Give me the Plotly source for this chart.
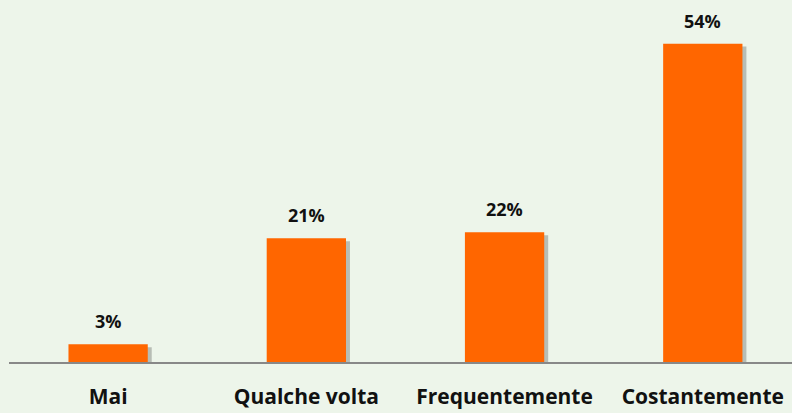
import plotly.graph_objects as go

categories = ["Mai", "Qualche volta", "Frequentemente", "Costantemente"]
values = [3, 21, 22, 54]
value_labels = ["3%", "21%", "22%", "54%"]

FONT = "Open Sans"
BAR_COLOR = "#FF6600"

fig = go.Figure()
# shadow
fig.add_trace(go.Bar(
    x=categories, y=values, base=[-0.5] * len(values),
    width=0.4, offset=-0.18,
    marker=dict(color="rgba(60,60,60,0.3)", line=dict(width=0)),
    hoverinfo="skip", showlegend=False,
))
fig.add_trace(go.Bar(
    x=categories, y=values,
    width=0.4, offset=-0.2,
    marker=dict(color=BAR_COLOR, line=dict(width=0)),
    showlegend=False,
))

for c, v, t in zip(categories, values, value_labels):
    fig.add_annotation(x=c, y=v, text="<b>%s</b>" % t, showarrow=False,
                       yshift=23, font=dict(family=FONT, size=18, color="#111111"))

fig.update_layout(
    width=792, height=413,
    margin=dict(l=9, r=0, t=0, b=51),
    paper_bgcolor="#EDF5EA",
    plot_bgcolor="rgba(0,0,0,0)",
    barmode="overlay",
    xaxis=dict(
        range=[-0.5, 3.45],
        showline=True, linecolor="#888888", linewidth=2,
        ticks="outside", ticklen=15, tickcolor="rgba(0,0,0,0)",
        tickfont=dict(family=FONT, size=21, color="#111111", weight="bold"),
        showgrid=False, zeroline=False, fixedrange=True,
    ),
    yaxis=dict(range=[0, 61.4], visible=False, showgrid=False, zeroline=False),
)

fig.write_html("out.html", config={"displayModeBar": False},
               post_script="document.body.style.margin='0';document.body.style.background='#EDF5EA';")
